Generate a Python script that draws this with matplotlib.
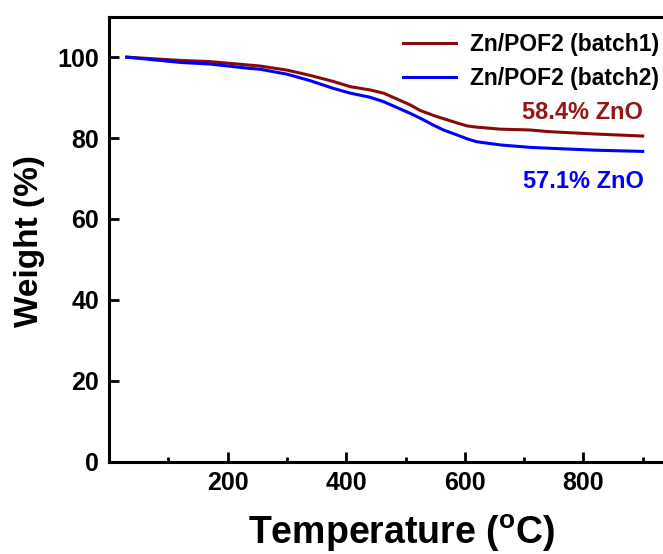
import matplotlib
matplotlib.use('Agg')
import matplotlib.pyplot as plt
from matplotlib.ticker import MultipleLocator

# TGA curves
temp = [30, 120, 170, 232, 255, 300, 339, 378, 407, 440, 463, 508, 525, 547,
        564, 590, 604, 620, 660, 710, 740, 820, 900]
batch1 = [100.0, 99.2, 98.9, 98.1, 97.8, 96.8, 95.5, 94.0, 92.7, 91.9, 91.1, 88.2,
          86.8, 85.6, 84.8, 83.6, 83.0, 82.7, 82.2, 82.0, 81.6, 81.0, 80.5]
batch2 = [100.0, 98.7, 98.3, 97.3, 97.0, 95.8, 94.2, 92.3, 91.1, 90.1, 89.0, 86.1,
          84.9, 83.2, 82.0, 80.6, 79.8, 79.1, 78.3, 77.7, 77.5, 77.0, 76.7]
labels = ['Zn/POF2 (batch1)', 'Zn/POF2 (batch2)']
notes = ['58.4% ZnO', '57.1% ZnO']

c1 = '#850a0a'
c2 = '#0000ff'

plt.rcParams['font.family'] = ['Liberation Sans', 'DejaVu Sans']
plt.rcParams['font.weight'] = 'bold'
plt.rcParams['mathtext.fontset'] = 'custom'
plt.rcParams['mathtext.rm'] = 'Liberation Sans:bold'

W, H = 663, 554
fig = plt.figure(figsize=(W/100, H/100), dpi=100)
# axes runs past the right edge of the picture (the original is cropped)
ax = fig.add_axes([109/W, 1-461.7/H, (702-109)/W, (461.7-16.7)/H])

ax.plot(temp, batch1, color=c1, lw=2.2, label=labels[0])
ax.plot(temp, batch2, color=c2, lw=2.2, label=labels[1])

ax.set_xlim(0, 1000)
ax.set_ylim(0, 110)
ax.xaxis.set_minor_locator(MultipleLocator(100))
ax.set_xticks([200, 400, 600, 800])
ax.set_yticks([0, 20, 40, 60, 80, 100])
ax.tick_params(which='both', direction='in', width=2, labelsize=18, pad=7)
ax.tick_params(which='major', length=7)
ax.tick_params(which='minor', length=3.5)
ax.tick_params(axis='y', which='minor', left=False)
for lab in ax.get_xticklabels() + ax.get_yticklabels():
    lab.set_fontweight('bold')
for s in ax.spines.values():
    s.set_linewidth(2.2)
ax.spines['right'].set_visible(False)

ax.text(798, 86.2, notes[0], color='#961616', fontsize=17, fontweight='bold',
        ha='center', va='center')
ax.text(800, 69.2, notes[1], color=c2, fontsize=17, fontweight='bold',
        ha='center', va='center')

fig.legend(loc='upper left', bbox_to_anchor=(392/W, 1-22/H), frameon=False,
           borderpad=0, handlelength=2.3, handletextpad=0.62, labelspacing=0.45,
           prop={'size': 16.5, 'weight': 'bold'})

fig.text(30/W, 0.565, 'Weight (%)', rotation=90, fontsize=24, fontweight='bold',
         ha='center', va='center')
fig.text(402/W, 1-544/H, r'Temperature ($\mathrm{^o}$C)', fontsize=27,
         fontweight='bold', ha='center', va='baseline')

fig.savefig('out.png', dpi=100)
